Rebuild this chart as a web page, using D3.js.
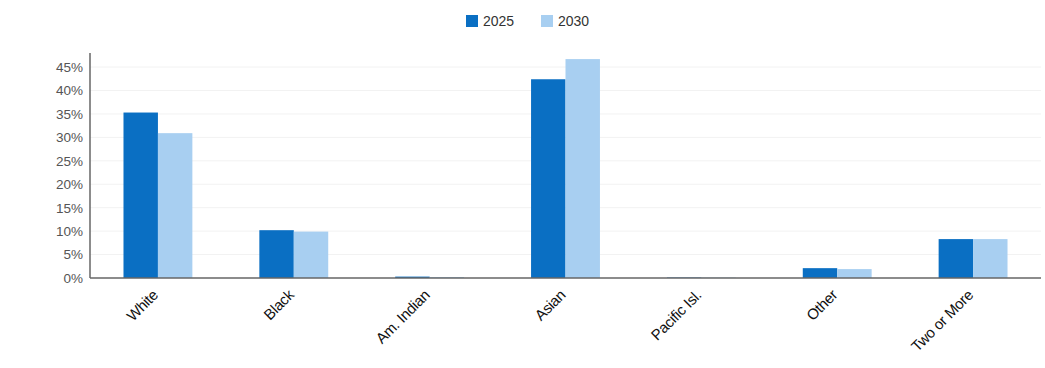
<!DOCTYPE html>
<html>
<head>
<meta charset="utf-8">
<script src="https://cdn.jsdelivr.net/npm/d3@7"></script>
<style>
  html, body { margin: 0; padding: 0; background: #fff; }
  svg { display: block; font-family: "Liberation Sans", Arial, sans-serif; }
</style>
</head>
<body>
<svg id="chart" width="1045" height="368"></svg>
<script>
// Population share by race, 2025 vs 2030 (percent)
const categories = ["White", "Black", "Am. Indian", "Asian", "Pacific Isl.", "Other", "Two or More"];
const seriesNames = ["2025", "2030"];
const values2025 = [35.3, 10.2, 0.3, 42.4, 0.1, 2.1, 8.3];
const values2030 = [30.9, 9.9, 0.2, 46.7, 0.1, 1.9, 8.3];
const yTicks = [0, 5, 10, 15, 20, 25, 30, 35, 40, 45];
const colors = ["#0a6fc3", "#a8cff1"];

const svg = d3.select("#chart");
const margin = { left: 90, right: 4, top: 53, bottom: 90 };
const y0 = 278;

const x = d3.scaleBand()
  .domain(categories)
  .range([margin.left, 1041])
  .paddingInner(0.493)
  .paddingOuter(0.2465);

const xSub = d3.scaleBand()
  .domain(seriesNames)
  .range([0, x.bandwidth()]);

const y = d3.scaleLinear()
  .domain([0, 48])
  .range([y0, margin.top]);

const rows = categories.map((c, i) => ({ cat: c, vals: [values2025[i], values2030[i]] }));

// faint horizontal grid
svg.append("g")
  .selectAll("line")
  .data(yTicks.filter(t => t > 0))
  .join("line")
  .attr("x1", margin.left)
  .attr("x2", 1041)
  .attr("y1", d => y(d))
  .attr("y2", d => y(d))
  .attr("stroke", "#f2f2f2")
  .attr("stroke-width", 1);

// bars
const groups = svg.append("g")
  .selectAll("g")
  .data(rows)
  .join("g")
  .attr("transform", d => `translate(${x(d.cat)},0)`);

groups.selectAll("rect")
  .data(d => d.vals.map((v, j) => ({ key: seriesNames[j], v, j })))
  .join("rect")
  .attr("x", d => xSub(d.key))
  .attr("width", xSub.bandwidth())
  .attr("y", d => y(d.v))
  .attr("height", d => y0 - y(d.v))
  .attr("fill", d => colors[d.j]);

// y axis
const yAxis = svg.append("g")
  .attr("transform", `translate(${margin.left},0)`)
  .call(d3.axisLeft(y).tickValues(yTicks).tickSize(0).tickPadding(7).tickFormat(d => d + "%"));
yAxis.select(".domain").remove();
yAxis.selectAll("text")
  .attr("fill", "#555")
  .style("font-size", "13.5px");

svg.append("line")
  .attr("x1", margin.left).attr("x2", margin.left)
  .attr("y1", margin.top).attr("y2", y0)
  .attr("stroke", "#666").attr("stroke-width", 1.5);

// x axis, labels slanted at 45 degrees
const xAxis = svg.append("g")
  .attr("transform", `translate(0,${y0})`)
  .call(d3.axisBottom(x).tickSize(0).tickPadding(0));
xAxis.select(".domain").remove();
xAxis.selectAll("text")
  .attr("text-anchor", "end")
  .attr("fill", "#111")
  .style("font-size", "15px")
  .style("letter-spacing", "-0.3px")
  .attr("dy", null)
  .attr("transform", "translate(1,18) rotate(-45)")
  .attr("y", 0)
  .attr("x", 0);

svg.append("line")
  .attr("x1", margin.left).attr("x2", 1041)
  .attr("y1", y0).attr("y2", y0)
  .attr("stroke", "#666").attr("stroke-width", 1.5);

// legend
const legend = svg.append("g")
  .selectAll("g")
  .data(seriesNames)
  .join("g")
  .attr("transform", (d, i) => `translate(${466 + i * 75},15)`);
legend.append("rect")
  .attr("width", 12).attr("height", 12)
  .attr("fill", (d, i) => colors[i]);
legend.append("text")
  .attr("x", 17).attr("y", 10.5)
  .attr("fill", "#333")
  .style("font-size", "14px")
  .text(d => d);
</script>
</body>
</html>
